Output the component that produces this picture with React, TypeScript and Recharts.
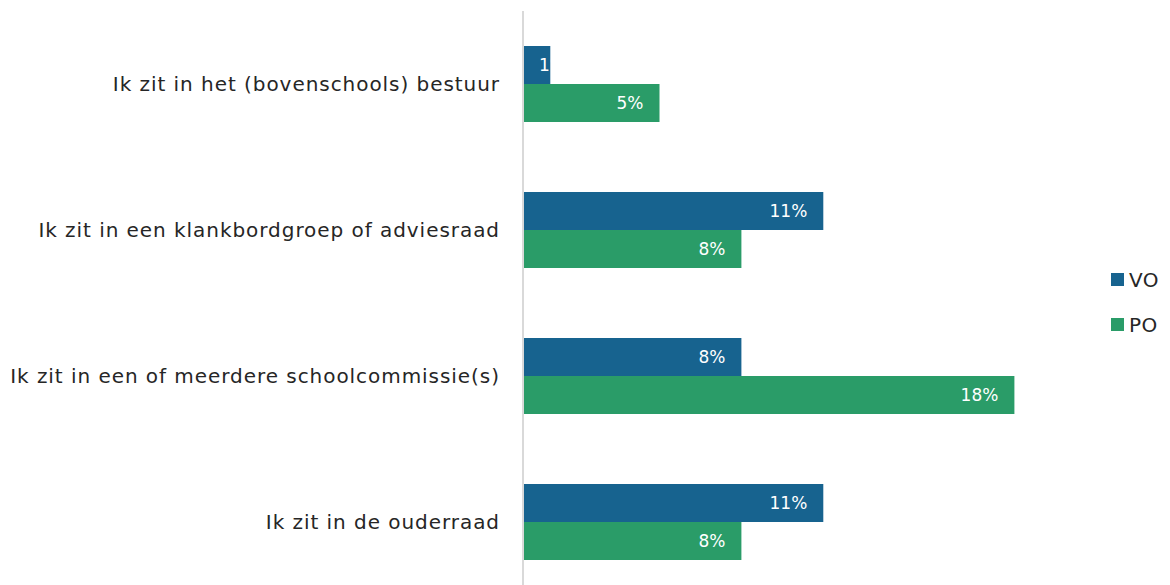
import { Bar, BarChart, LabelList, XAxis, YAxis } from "recharts";

const categories = [
  "Ik zit in het (bovenschools) bestuur",
  "Ik zit in een klankbordgroep of adviesraad",
  "Ik zit in een of meerdere schoolcommissie(s)",
  "Ik zit in de ouderraad",
];
const vo = [1, 11, 8, 11];
const po = [5, 8, 18, 8];

const VO_COLOR = "#17638f";
const PO_COLOR = "#2a9c68";
const FONT = "'DejaVu Sans', sans-serif";

const rows = categories.map((name, i) => ({ name, VO: vo[i], PO: po[i] }));

let clipCount = 0;

function BarLabel(props: any) {
  const { x, y, width, height, value } = props;
  const id = `lbl-clip-${clipCount++}`;
  const small = width < 40;
  const tx = small ? x + 16 : x + width - 16;
  return (
    <g>
      <defs>
        <clipPath id={id}>
          <rect x={x} y={y} width={width} height={height} />
        </clipPath>
      </defs>
      <text
        x={tx}
        y={y + height / 2}
        dy="0.35em"
        textAnchor={small ? "start" : "end"}
        fill="#ffffff"
        fontSize={17}
        fontFamily={FONT}
        clipPath={`url(#${id})`}
      >
        {value}%
      </text>
    </g>
  );
}

const legendItems = [
  { label: "VO", color: VO_COLOR },
  { label: "PO", color: PO_COLOR },
];

export default function App() {
  return (
    <div style={{ position: "absolute", left: 0, top: 0, width: 1170, height: 585, overflow: "hidden", background: "#fff" }}>
      <BarChart
        width={1170}
        height={600}
        data={rows}
        layout="vertical"
        margin={{ top: 11, right: 101, bottom: 5, left: 0 }}
        barGap={0}
      >
        <XAxis type="number" domain={[0, 20]} hide />
        <YAxis
          type="category"
          dataKey="name"
          width={523}
          tickLine={false}
          tickSize={0}
          tickMargin={23}
          axisLine={{ stroke: "#d9d9d9", strokeWidth: 2 }}
          tick={{ fill: "#262626", fontSize: 20, fontFamily: FONT, letterSpacing: 0.95 }}
        />
        <Bar dataKey="VO" fill={VO_COLOR} barSize={38} isAnimationActive={false}>
          <LabelList dataKey="VO" content={<BarLabel />} />
        </Bar>
        <Bar dataKey="PO" fill={PO_COLOR} barSize={38} isAnimationActive={false}>
          <LabelList dataKey="PO" content={<BarLabel />} />
        </Bar>
      </BarChart>
      <div style={{ position: "absolute", left: 1111, top: 257, fontFamily: FONT }}>
        {legendItems.map((it) => (
          <div key={it.label} style={{ display: "flex", alignItems: "center", height: 45 }}>
            <span style={{ width: 13, height: 13, background: it.color, display: "inline-block", marginRight: 5 }} />
            <span style={{ fontSize: 20, color: "#262626", letterSpacing: 0.5 }}>{it.label}</span>
          </div>
        ))}
      </div>
    </div>
  );
}
